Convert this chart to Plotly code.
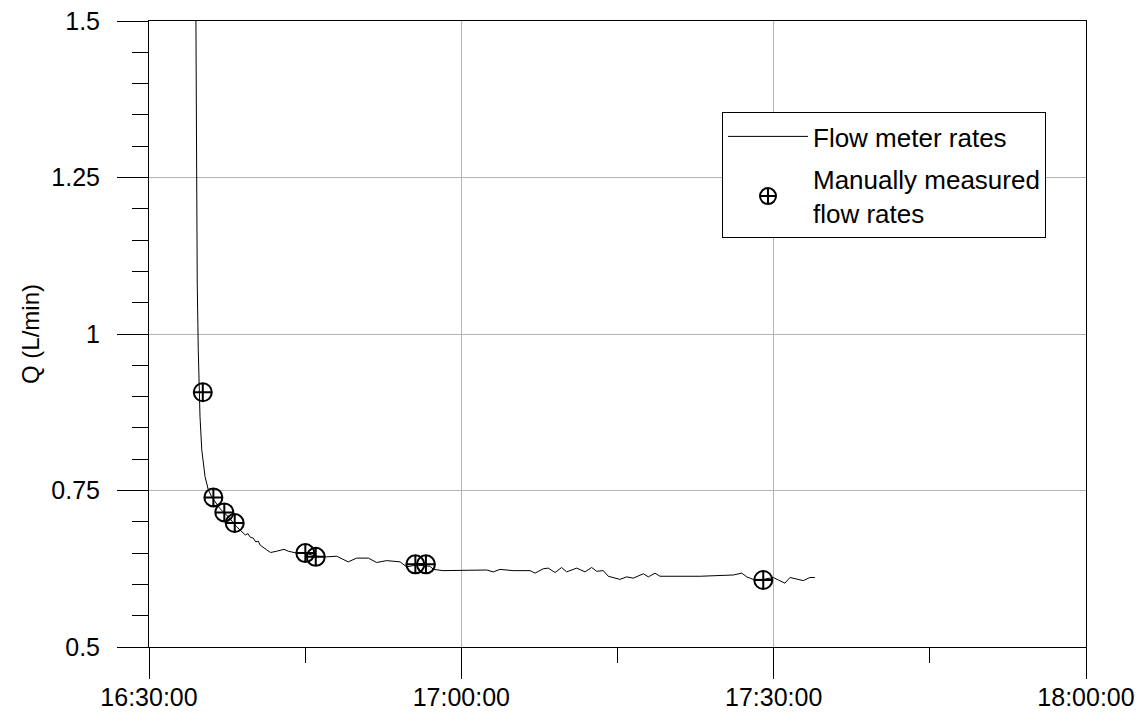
import plotly.graph_objects as go

DAY = "2020-01-01 "

# Flow meter record (time, Q in L/min)
meter_times = [
    "16:34:25", "16:34:29", "16:34:32", "16:34:38", "16:34:44", "16:34:50", "16:34:54",
    "16:35:04", "16:35:23", "16:35:42", "16:36:01", "16:36:49", "16:37:37", "16:38:25",
    "16:38:45", "16:39:04", "16:39:15", "16:39:30", "16:39:45", "16:40:01", "16:40:15",
    "16:40:30", "16:40:40", "16:41:19", "16:41:41", "16:42:16", "16:42:58", "16:43:23",
    "16:44:11", "16:45:09", "16:46:07", "16:47:04", "16:48:02", "16:49:08", "16:49:57",
    "16:51:04", "16:51:52", "16:52:50", "16:54:07", "16:54:45", "16:55:43", "16:56:59",
    "16:57:19", "16:58:14", "17:00:02", "17:02:26", "17:03:04", "17:03:43", "17:04:59",
    "17:06:36", "17:07:05", "17:07:52", "17:08:21", "17:09:00", "17:09:38", "17:10:07",
    "17:11:05", "17:11:53", "17:12:31", "17:13:00", "17:13:38", "17:14:07", "17:15:14",
    "17:15:53", "17:16:31", "17:17:29", "17:17:58", "17:18:36", "17:19:05", "17:19:44",
    "17:22:55", "17:26:07", "17:26:56", "17:27:25", "17:28:02", "17:29:00", "17:29:58",
    "17:30:27", "17:31:05", "17:31:34", "17:32:22", "17:32:51", "17:33:29", "17:33:58",
]
meter_q = [
    1.80, 1.50, 1.25, 1.08, 0.974, 0.907, 0.868,
    0.815, 0.772, 0.751, 0.740, 0.721, 0.708, 0.692,
    0.687, 0.683, 0.679, 0.681, 0.675, 0.674, 0.668,
    0.669, 0.663, 0.655, 0.651, 0.653, 0.656, 0.653,
    0.650, 0.649, 0.645, 0.644, 0.645, 0.636, 0.642,
    0.642, 0.635, 0.638, 0.636, 0.628, 0.631, 0.629,
    0.624, 0.622, 0.622, 0.623, 0.620, 0.624, 0.622,
    0.622, 0.618, 0.625, 0.626, 0.619, 0.627, 0.620,
    0.626, 0.620, 0.627, 0.621, 0.622, 0.613, 0.608,
    0.612, 0.610, 0.617, 0.612, 0.618, 0.613, 0.613,
    0.613, 0.615, 0.618, 0.612, 0.608, 0.608, 0.611,
    0.607, 0.602, 0.611, 0.608, 0.606, 0.611, 0.611,
]

# Manually measured flow rates
manual_times = ["16:35:10", "16:36:11", "16:37:14", "16:38:14", "16:45:01",
                "16:46:01", "16:55:35", "16:56:36", "17:29:00"]
manual_q = [0.907, 0.739, 0.715, 0.698, 0.650, 0.644, 0.632, 0.632, 0.607]

x_ticks = ["16:30:00", "17:00:00", "17:30:00", "18:00:00"]
y_ticks = [0.5, 0.75, 1.0, 1.25, 1.5]
y_tick_text = ["0.5", "0.75", "1", "1.25", "1.5"]

FONT = "Liberation Sans, Arial, sans-serif"

fig = go.Figure()
fig.add_trace(go.Scatter(
    x=[DAY + t for t in meter_times], y=meter_q, mode="lines",
    line=dict(color="black", width=1), name="Flow meter rates",
    legendgroup="a",
))
fig.add_trace(go.Scatter(
    x=[DAY + t for t in manual_times], y=manual_q, mode="markers",
    marker=dict(symbol="circle-cross-open", size=18, color="black",
                line=dict(color="black", width=2)),
    name="Manually measured<br>flow rates",
    legendgroup="b",
))

# page body has an 8px offset: margins compensate so the plot area sits at
# x 149..1086, y 21..647 in the window
fig.update_layout(
    width=1146, height=722,
    margin=dict(l=141, r=68, t=13, b=83, autoexpand=False),
    paper_bgcolor="white", plot_bgcolor="white",
    font=dict(family=FONT, size=25, color="black"),
    showlegend=True,
    legend=dict(
        x=(722 - 149) / 937, y=(647 - 112) / 626, xanchor="left", yanchor="top",
        bordercolor="black", borderwidth=1, bgcolor="white",
        font=dict(size=26), itemwidth=80, traceorder="grouped",
        tracegroupgap=6,
    ),
)
fig.update_xaxes(
    type="date", automargin=False,
    range=[DAY + "16:30:00", DAY + "18:00:00"],
    tickvals=[DAY + t for t in x_ticks], ticktext=x_ticks,
    ticks="outside", ticklen=31, tickcolor="black", tickwidth=1,
    ticklabelstandoff=-3, ticklabeloverflow="allow",
    showline=True, linecolor="black", linewidth=1, mirror=True,
    showgrid=True, gridcolor="#b4b4b4", gridwidth=1,
    minor=dict(dtick=15 * 60 * 1000, tick0=DAY + "16:30:00", ticks="outside",
               ticklen=15, tickcolor="black", showgrid=False),
    zeroline=False,
)
fig.update_yaxes(
    automargin=False,
    range=[0.5, 1.5],
    tickvals=y_ticks, ticktext=y_tick_text,
    ticks="outside", ticklen=31, tickcolor="black", tickwidth=1,
    ticklabelstandoff=12, ticklabeloverflow="allow",
    showline=True, linecolor="black", linewidth=1, mirror=True,
    showgrid=True, gridcolor="#b4b4b4", gridwidth=1,
    minor=dict(dtick=0.05, tick0=0.5, ticks="outside", ticklen=16,
               tickcolor="black", showgrid=False),
    title=dict(text="Q (L/min)", standoff=4, font=dict(size=24)),
    zeroline=False,
)

fig.write_html("out.html")
